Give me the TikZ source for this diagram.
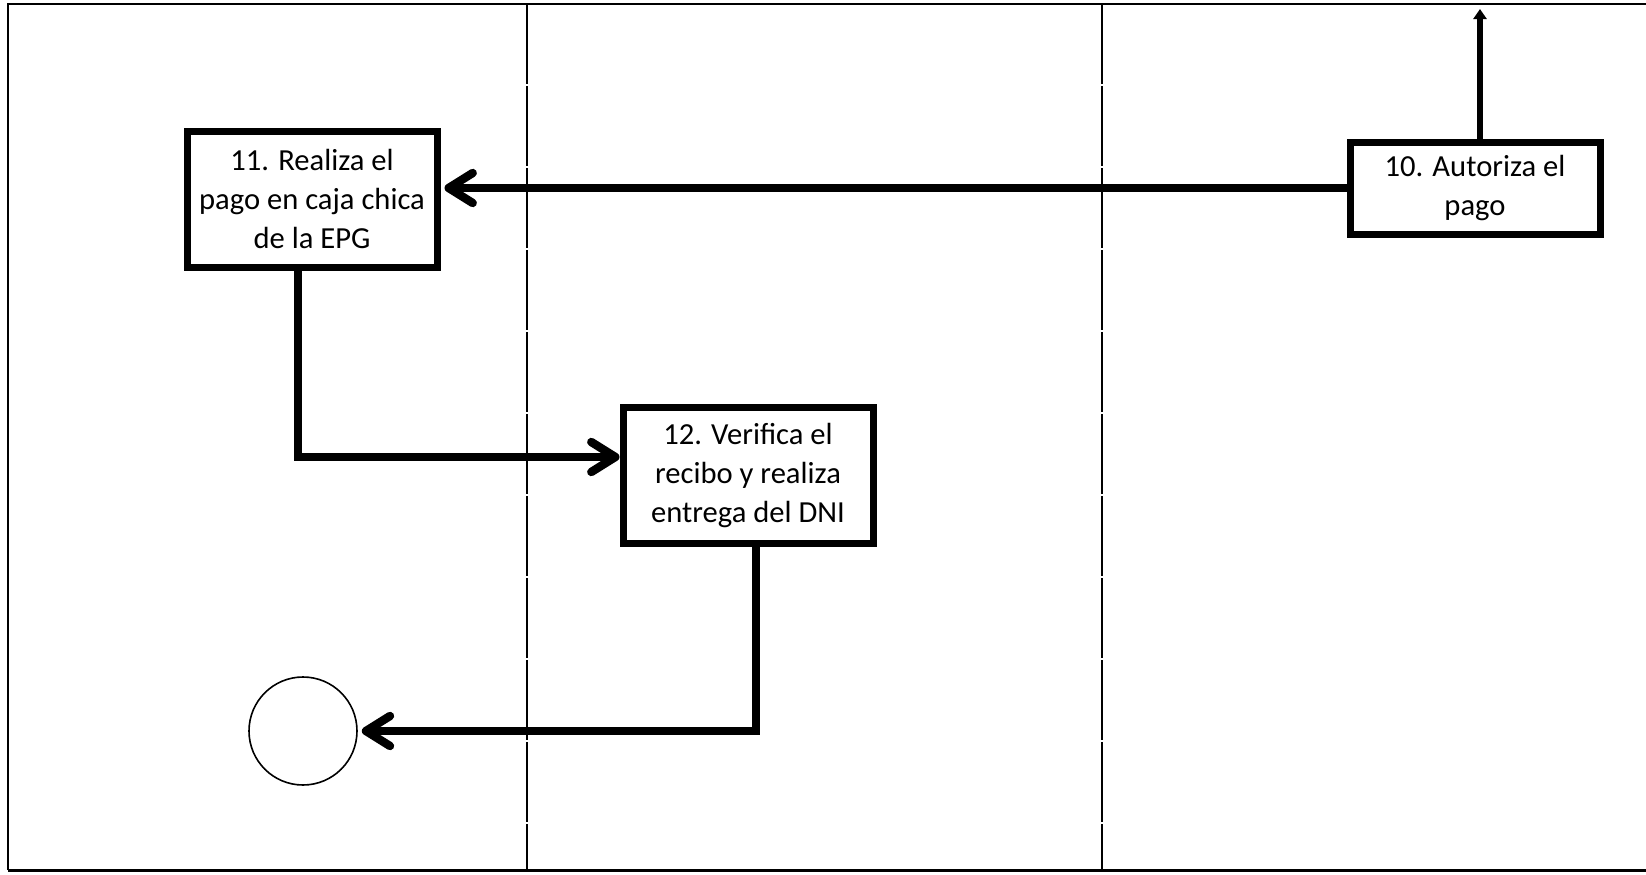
\documentclass[tikz,border=0pt]{standalone}
\usepackage{fontspec}
\setmainfont{Carlito}
\usetikzlibrary{arrows.meta, positioning}

\begin{document}
\begin{tikzpicture}[
  x=0.5pt, y=-0.5pt,
  every node/.style={font=\fontsize{15.3}{19.5}\selectfont},
  box/.style={rectangle, draw, line width=3.5pt, minimum width=125pt, minimum height=68pt, align=center, inner sep=2pt},
  arr/.style={-{Straight Barb[length=12pt, width=15pt, round]}, line width=4.2pt},
  lane/.style={line width=0.6pt, dash pattern=on 40pt off 1pt}
]
\useasboundingbox (0,0) rectangle (1646,874);
% frame and lanes
\draw[line width=1pt] (1646,4) -- (8,4) -- (8,870);
\draw[line width=1.5pt] (8,870) -- (1646,870);
\draw[lane] (527,4) -- (527,870);
\draw[lane] (1102,4) -- (1102,870);

\node[box] (pay) at (312,199) {11. Realiza el\\pago en caja chica\\de la EPG};
\node[box, minimum height=46pt] (auth) at (1475,188) {10. Autoriza el\\pago};
\node[box] (check) at (748,475) {12. Verifica el\\recibo y realiza\\entrega del DNI};
\node[circle, draw, line width=0.8pt, minimum size=54pt] (fin) at (303,731) {};
\coordinate (up) at (1480,9);

\draw[line width=3pt, -{Triangle[length=5pt, width=6.5pt]}] (auth.north -| up) -- (up);
\draw[arr] (auth.west) -- ([xshift=2pt]auth.west -| pay.east);
\draw[arr] ([xshift=-7pt]pay.south) |- ([yshift=9pt]check.west);
\draw[arr] ([xshift=4pt]check.south) |- ([xshift=2pt]fin.east);
\end{tikzpicture}
\end{document}
